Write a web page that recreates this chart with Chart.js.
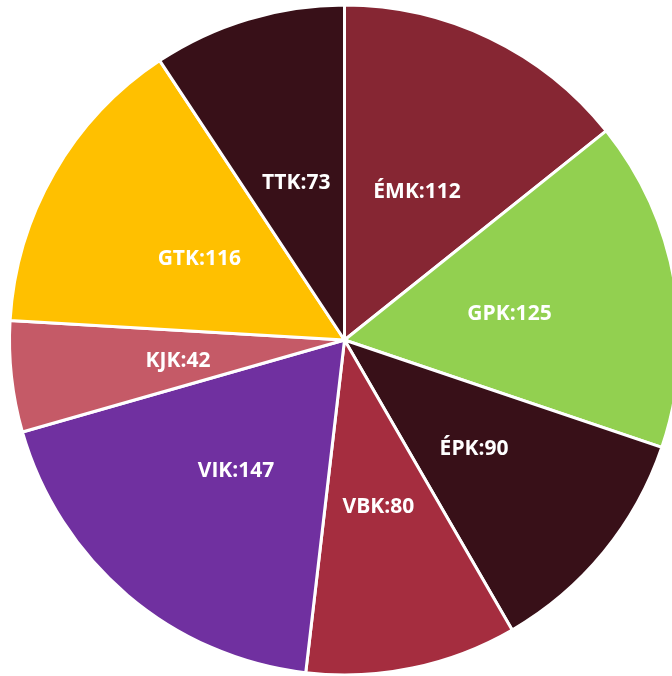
<!DOCTYPE html>
<html>
<head>
<meta charset="utf-8">
<script src="https://cdn.jsdelivr.net/npm/chart.js@4"></script>
<style>
  html, body { margin: 0; padding: 0; background: #fff; overflow: hidden; }
  #wrap { position: absolute; left: 0; top: 0; width: 689px; height: 680px; }
</style>
</head>
<body>
<div id="wrap"><canvas id="canvas" width="689" height="680"></canvas></div>
<script>
// faculties, clockwise from 12 o'clock
const labels = ['ÉMK', 'GPK', 'ÉPK', 'VBK', 'VIK', 'KJK', 'GTK', 'TTK']
const values = [112, 125, 90, 80, 147, 42, 116, 73]
const colors = ['#862633', '#92D050', '#381018', '#A52D3F', '#7030A0', '#C55A67', '#FFC000', '#381018']

// write "NAME:value" in the middle of every slice
const sliceLabels = {
  id: 'sliceLabels',
  afterDatasetsDraw(chart) {
    const ctx = chart.ctx
    const meta = chart.getDatasetMeta(0)
    ctx.save()
    ctx.font = 'bold 21px "Open Sans"'
    ctx.fillStyle = '#ffffff'
    ctx.textAlign = 'center'
    ctx.textBaseline = 'middle'
    meta.data.forEach((arc, i) => {
      const p = arc.getCenterPoint()
      ctx.fillText(labels[i] + ':' + values[i], p.x, p.y + 3)
    })
    ctx.restore()
  }
}

new Chart(document.getElementById('canvas'), {
  type: 'pie',
  data: {
    labels: labels,
    datasets: [{
      data: values,
      backgroundColor: colors,
      borderColor: '#ffffff',
      borderWidth: 3
    }]
  },
  options: {
    responsive: false,
    animation: false,
    radius: 335,
    layout: { padding: 0 },
    plugins: {
      legend: { display: false },
      tooltip: { enabled: false }
    }
  },
  plugins: [sliceLabels]
})
</script>
</body>
</html>
